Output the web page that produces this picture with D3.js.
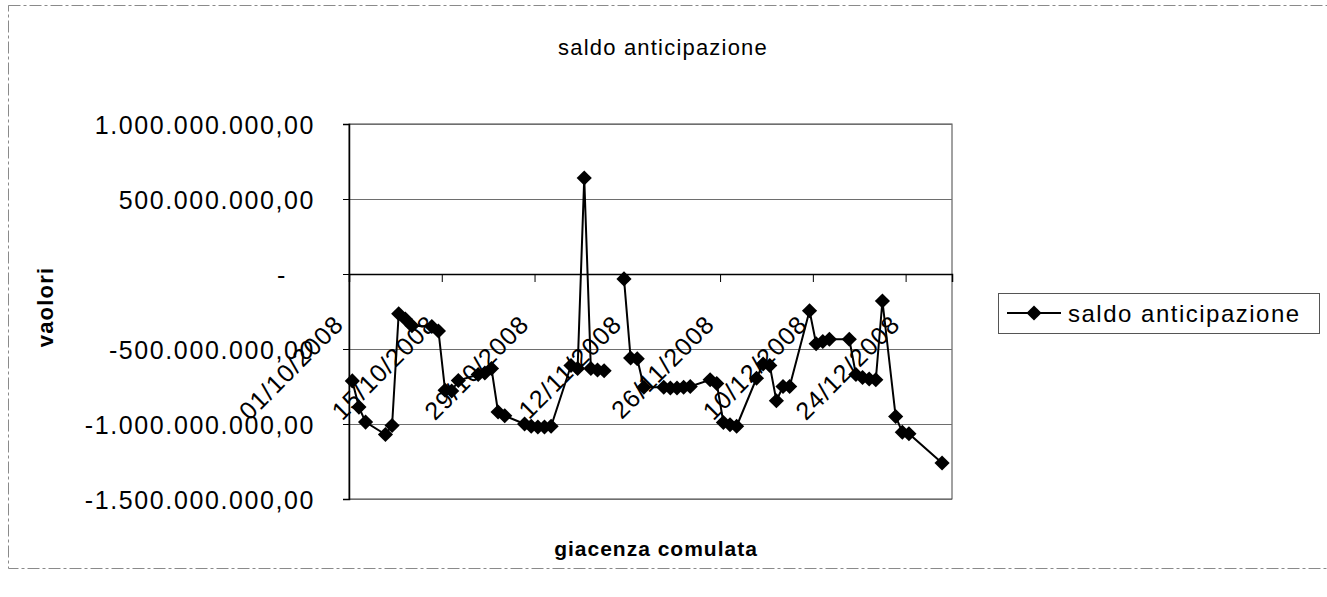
<!DOCTYPE html>
<html>
<head>
<meta charset="utf-8">
<script src="https://cdn.jsdelivr.net/npm/d3@7"></script>
<style>
  body { margin: 0; background: #fff; }
  text { font-family: "Liberation Sans", Arial, sans-serif; fill: #000; }
</style>
</head>
<body>
<div id="chart"></div>
<script>
// data (values in millions of euro, null = empty cell)
var dates = ["01/10/2008","02/10/2008","03/10/2008","06/10/2008","07/10/2008","08/10/2008","09/10/2008","10/10/2008",
  "13/10/2008","14/10/2008","15/10/2008","16/10/2008","17/10/2008","20/10/2008","21/10/2008","22/10/2008","23/10/2008","24/10/2008",
  "27/10/2008","28/10/2008","29/10/2008","30/10/2008","31/10/2008","03/11/2008","04/11/2008","05/11/2008","06/11/2008","07/11/2008",
  "08/11/2008","10/11/2008","11/11/2008","12/11/2008","13/11/2008","14/11/2008","17/11/2008","18/11/2008","19/11/2008","20/11/2008",
  "21/11/2008","24/11/2008","25/11/2008","26/11/2008","27/11/2008","28/11/2008","01/12/2008","02/12/2008","03/12/2008","04/12/2008",
  "05/12/2008","06/12/2008","09/12/2008","10/12/2008","11/12/2008","12/12/2008","15/12/2008","16/12/2008","17/12/2008","18/12/2008",
  "19/12/2008","20/12/2008","22/12/2008","23/12/2008","24/12/2008","29/12/2008"];
var saldo = [-713,-887,-987,-1070,-1010,-265,-300,-345,
  -350,-380,-775,-780,-710,-670,-660,-630,-920,-945,
  -1000,-1015,-1020,-1020,-1015,-610,-630,640,-630,-640,
  -645,null,-33,-560,-565,-755,-755,-760,-760,-755,
  -750,-705,-730,-990,-1005,-1015,-695,-600,-610,-845,
  -750,-750,-245,-465,-450,-435,-435,-670,-690,-700,
  -705,-180,-950,-1055,-1065,-1260];
var tickDates = ["01/10/2008","15/10/2008","29/10/2008","12/11/2008","26/11/2008","10/12/2008","24/12/2008"];
var yTicks = [-1500, -1000, -500, 0, 500, 1000];

var W = 1327, H = 597;
var plot = {left: 349, right: 952, top: 124, bottom: 499};

var parse = d3.timeParse("%d/%m/%Y");
var it = d3.formatLocale({decimal: ",", thousands: ".", grouping: [3], currency: ["€", ""], minus: "-"});
var fmt = it.format(",.2f");

var svg = d3.select("#chart").append("svg")
  .attr("width", W).attr("height", H);

// outer chart frame (faint, like the scan)
svg.append("rect")
  .attr("x", 8.5).attr("y", 5.5).attr("width", 1330).attr("height", 563)
  .attr("fill", "none").attr("stroke", "#8a8a8a").attr("stroke-dasharray", "12,3,3,3");

// scales: one slot per day, point drawn in the middle of its day
var x = d3.scaleTime()
  .domain([parse("01/10/2008"), parse("31/12/2008")])
  .range([plot.left, plot.right]);
var y = d3.scaleLinear().domain([-1500, 1000]).range([plot.bottom, plot.top]);

var data = dates.map(function(d, i) {
  return {date: d3.timeHour.offset(parse(d), 12), value: saldo[i]};
});

// plot area + gridlines
svg.append("rect")
  .attr("x", plot.left).attr("y", plot.top)
  .attr("width", plot.right - plot.left).attr("height", plot.bottom - plot.top)
  .attr("fill", "#fff").attr("stroke", "#444").attr("stroke-width", 1);

svg.append("g")
  .selectAll("line")
  .data(yTicks)
  .enter().append("line")
    .attr("x1", plot.left).attr("x2", plot.right)
    .attr("y1", function(d) { return y(d) + 0.5; })
    .attr("y2", function(d) { return y(d) + 0.5; })
    .attr("stroke", "#6e6e6e").attr("stroke-width", 1.2);

// Y axis
var yAxis = svg.append("g")
  .attr("transform", "translate(" + plot.left + ",0)")
  .call(d3.axisLeft(y).tickValues(yTicks).tickSize(6).tickPadding(28)
    .tickFormat(function(d) { return d === 0 ? "-" : fmt(d * 1e6); }));
yAxis.select(".domain").attr("stroke", "#000").attr("stroke-width", 1.5);
yAxis.selectAll(".tick line").attr("stroke", "#000");
yAxis.selectAll("text")
  .style("font-size", "25px").style("letter-spacing", "1.6px")
  .attr("dy", "0.36em")
  .attr("x", function(d) { return d === 0 ? -62 : -34; });

// X axis crosses at zero
var xAxis = svg.append("g")
  .attr("transform", "translate(0," + y(0) + ")")
  .call(d3.axisBottom(x).tickValues(tickDates.map(parse)).tickSize(8).tickFormat(""));
xAxis.select(".domain").attr("stroke", "#000").attr("stroke-width", 1.5);
xAxis.selectAll(".tick line").attr("stroke", "#000");

// rotated date labels
svg.append("g")
  .selectAll("text")
  .data(tickDates)
  .enter().append("text")
    .attr("transform", function(d) {
      return "translate(" + (x(parse(d)) - 4) + "," + (y(0) + 52) + ") rotate(-45)";
    })
    .style("text-anchor", "end")
    .style("font-size", "25px")
    .style("letter-spacing", "1px")
    .text(function(d) { return d; });

// the series line, broken at empty cells
var line = d3.line()
  .defined(function(d) { return d.value !== null; })
  .x(function(d) { return x(d.date); })
  .y(function(d) { return y(d.value); });

svg.append("path")
  .datum(data)
  .attr("d", line)
  .attr("fill", "none")
  .attr("stroke", "#000")
  .attr("stroke-width", 2);

var diamond = d3.symbol().type(d3.symbolSquare).size(115);
svg.append("g")
  .selectAll("path")
  .data(data.filter(function(d) { return d.value !== null; }))
  .enter().append("path")
    .attr("d", diamond)
    .attr("transform", function(d) { return "translate(" + x(d.date) + "," + y(d.value) + ") rotate(45)"; })
    .attr("fill", "#000");

// titles
svg.append("text")
  .attr("x", 663).attr("y", 55)
  .style("text-anchor", "middle")
  .style("font-size", "22px").style("letter-spacing", "1.2px")
  .text("saldo anticipazione");

svg.append("text")
  .attr("transform", "translate(53,307) rotate(-90)")
  .style("text-anchor", "middle")
  .style("font-size", "22px").style("font-weight", "bold").style("letter-spacing", "1.2px")
  .text("vaolori");

svg.append("text")
  .attr("x", 656).attr("y", 556)
  .style("text-anchor", "middle")
  .style("font-size", "21px").style("font-weight", "bold").style("letter-spacing", "1px")
  .text("giacenza comulata");

// legend
var lg = svg.append("g");
lg.append("rect")
  .attr("x", 998.5).attr("y", 293.5).attr("width", 321).attr("height", 40)
  .attr("fill", "#fff").attr("stroke", "#555");
lg.append("line")
  .attr("x1", 1007).attr("x2", 1061).attr("y1", 313).attr("y2", 313)
  .attr("stroke", "#000").attr("stroke-width", 2);
lg.append("path")
  .attr("d", diamond)
  .attr("transform", "translate(1034,313) rotate(45)")
  .attr("fill", "#000");
lg.append("text")
  .attr("x", 1068).attr("y", 322)
  .style("font-size", "24px").style("letter-spacing", "1.5px")
  .text("saldo anticipazione");
</script>
</body>
</html>
